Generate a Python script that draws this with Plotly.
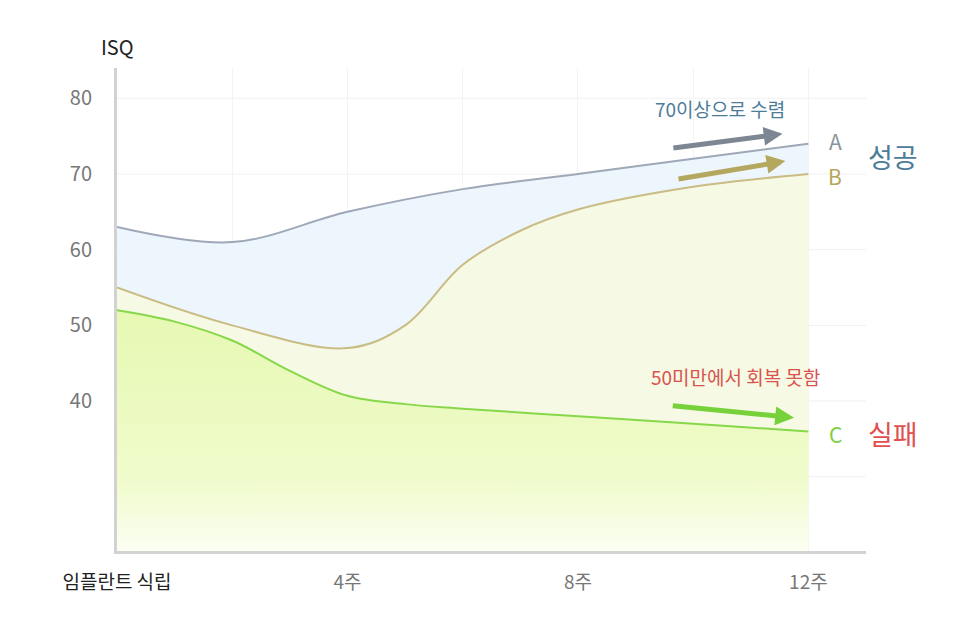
import plotly.graph_objects as go

# ---- data ----
weeks_a = [0, 2, 4, 6, 8, 10, 12]
isq_a = [63, 61, 65, 68, 70, 72, 74]

weeks_b = [0, 2, 4, 5, 6, 7, 8, 10, 12]
isq_b = [55, 50, 47, 50, 58, 62.5, 65.3, 68.3, 70]

weeks_c = [0, 1, 2, 3, 4, 5, 6, 8, 10, 12]
isq_c = [52, 50.5, 48, 44, 40.7, 39.6, 39, 38, 37, 36]

x_tickvals = [0, 4, 8, 12]
x_ticktext = ["<span style='color:#222222'>임플란트 식립</span>", "4주", "8주", "12주"]
y_tickvals = [40, 50, 60, 70, 80]

FONT = "Noto Sans CJK KR"

fig = go.Figure()

fig.add_trace(go.Scatter(
    x=weeks_a, y=isq_a, mode="lines", line=dict(color="#9ea8b8", width=2, shape="spline", smoothing=1.0),
    fill="tozeroy", fillcolor="rgba(236,244,253,0.92)", hoverinfo="skip", showlegend=False))
fig.add_trace(go.Scatter(
    x=weeks_b, y=isq_b, mode="lines", line=dict(color="#c9bc84", width=2, shape="spline", smoothing=1.0),
    fill="tozeroy", fillcolor="rgba(247,249,226,0.95)", hoverinfo="skip", showlegend=False))
fig.add_trace(go.Scatter(
    x=weeks_c, y=isq_c, mode="lines", line=dict(color="#86d84a", width=2, shape="spline", smoothing=1.0),
    fill="tozeroy",
    fillgradient=dict(type="vertical", start=20, stop=52,
                      colorscale=[[0, "#fcfff4"], [0.3, "#f0fbcc"], [1, "#e6f9b2"]]),
    hoverinfo="skip", showlegend=False))

ann = []
def txt(x, y, s, color, size, ref="data"):
    r = ("x", "y") if ref == "data" else ("paper", "paper")
    ann.append(dict(x=x, y=y, xref=r[0], yref=r[1], text=s, showarrow=False,
                    font=dict(color=color, size=size, family=FONT), xanchor="center", yanchor="middle"))

def arrow(x0, y0, x1, y1, color):
    ann.append(dict(x=x1, y=y1, ax=x0, ay=y0, xref="x", yref="y", axref="x", ayref="y",
                    text="", showarrow=True, arrowhead=2, arrowsize=0.75, arrowwidth=5,
                    arrowcolor=color))

txt(0, 1.0435, "ISQ", "#222222", 20, ref="paper")
txt(10.47, 78.7, "70이상으로 수렴", "#4d7c99", 19)
txt(12.47, 74.4, "A", "#8a939e", 21)
txt(12.47, 69.8, "B", "#b5a55a", 21)
txt(1.036, 0.816, "성공", "#4d7c99", 27, ref="paper")
txt(10.73, 43.2, "50미만에서 회복 못함", "#d9534f", 19)
txt(12.47, 35.6, "C", "#7ccf3f", 21)
txt(1.036, 0.244, "실패", "#e05050", 27, ref="paper")

arrow(9.63, 73.4, 11.55, 75.3, "#7d8794")
arrow(9.72, 69.3, 11.6, 71.7, "#b4a75e")
arrow(9.62, 39.4, 11.75, 37.8, "#76d13a")

fig.update_layout(
    width=966, height=632,
    margin=dict(l=117, r=100, t=68, b=81),
    paper_bgcolor="white", plot_bgcolor="white",
    font=dict(family=FONT, color="#777777", size=19),
    annotations=ann,
    xaxis=dict(range=[0, 13], tickvals=x_tickvals, ticktext=x_ticktext,
               showgrid=True, gridcolor="#f3f3f3", gridwidth=1,
               minor=dict(dtick=2, tick0=0, showgrid=True, gridcolor="#f3f3f3"),
               showline=True, linecolor="#d2d2d2", linewidth=3,
               ticks="outside", ticklen=12, tickcolor="rgba(0,0,0,0)",
               tickfont=dict(size=19, color="#777777", family=FONT), zeroline=False),
    yaxis=dict(range=[20.2, 84], tickvals=y_tickvals,
               showgrid=False, zeroline=False,
               showline=True, linecolor="#d2d2d2", linewidth=3,
               ticks="outside", ticklen=18, tickcolor="rgba(0,0,0,0)",
               tickfont=dict(size=20, color="#777777", family=FONT)),
)

# horizontal gridlines spanning full plot width (including 30 without label)
for gy in [30, 40, 50, 60, 70, 80]:
    fig.add_shape(type="line", xref="x", yref="y", x0=0, x1=13, y0=gy, y1=gy,
                  line=dict(color="#f1f1f1", width=1), layer="below")

fig.write_html("out.html")
